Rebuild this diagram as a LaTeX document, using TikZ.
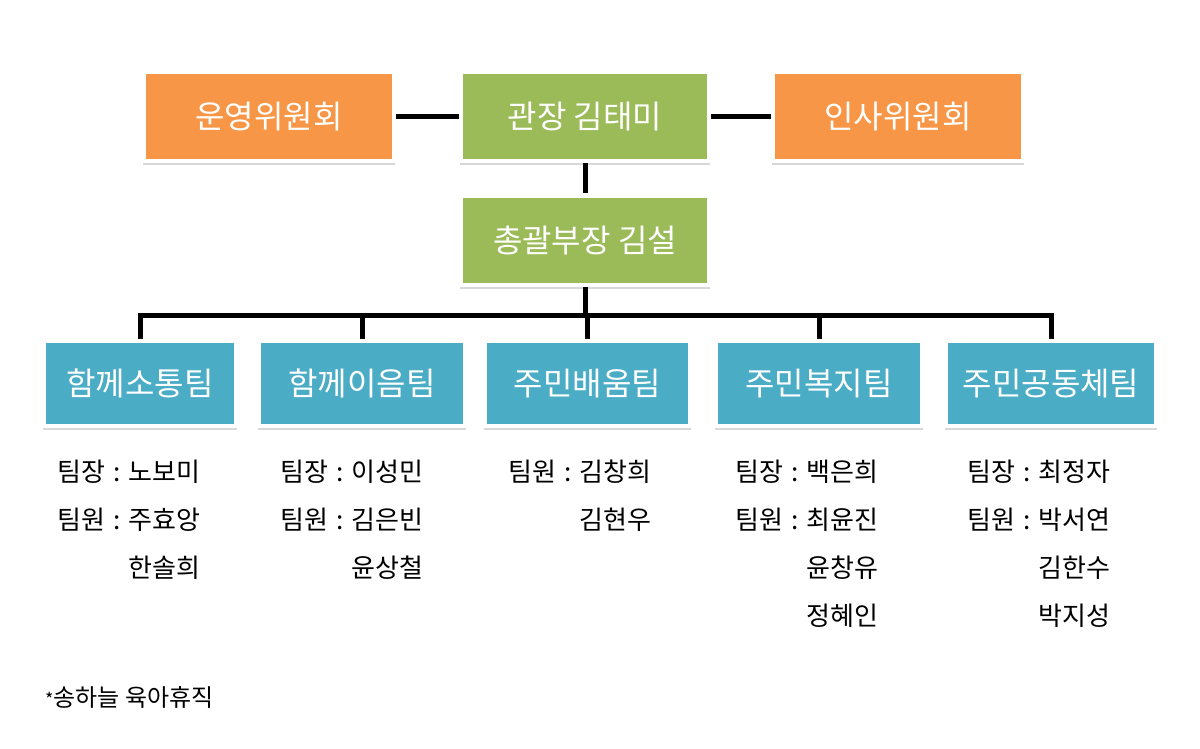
\documentclass[tikz,border=0pt]{standalone}
\usepackage{fontspec}
\setmainfont{Noto Sans CJK KR}
\usetikzlibrary{shadows}
\definecolor{opsorange}{HTML}{F79646}
\definecolor{headgreen}{HTML}{9BBB59}
\definecolor{teamblue}{HTML}{4BACC6}
\tikzset{
  orgbox/.style={draw=white,line width=4pt,text=white,inner sep=0pt,
    font=\fontsize{32}{36}\selectfont,
    drop shadow={opacity=.3,shadow xshift=0pt,shadow yshift=-4pt,shadow scale=1.01}},
  board/.style={orgbox,fill=opsorange,minimum width=250pt,minimum height=89pt},
  head/.style={orgbox,fill=headgreen,minimum width=248pt,minimum height=89pt},
  team/.style={orgbox,fill=teamblue,minimum height=85pt},
  link/.style={line width=5pt},
  crew/.style={anchor=base west,inner sep=0pt,font=\fontsize{26}{48}\selectfont},
}
\newcommand{\roster}[1]{\begin{tabular}[t]{@{}l@{\hspace{8pt}}c@{\hspace{8pt}}l@{}}#1\end{tabular}}
\begin{document}
\begin{tikzpicture}[x=1pt,y=-1pt]
  \useasboundingbox[fill=white] (0,0) rectangle (1200,749);
  % top row
  \node[board] (ops) at (269,116.5) {운영위원회};
  \node[head] (dir) at (585,116.5) {관장 김태미};
  \node[board] (hr) at (898,116.5) {인사위원회};
  \node[head] (gm) at (585,240) {총괄부장 김설};
  % teams
  \node[team,minimum width=192pt] (t1) at (140,383.5) {함께소통팀};
  \node[team,minimum width=206pt] (t2) at (362,383.5) {함께이음팀};
  \node[team,minimum width=205pt] (t3) at (587.5,383.5) {주민배움팀};
  \node[team,minimum width=206pt] (t4) at (819,383.5) {주민복지팀};
  \node[team,minimum width=210pt] (t5) at (1051,383.5) {주민공동체팀};
  \coordinate (bus) at (585,315);
  \draw[link] (ops) -- (dir);
  \draw[link] (dir) -- (hr);
  \draw[link] (dir) -- (gm);
  \draw[link] (gm) -- (bus);
  \foreach \t in {t1,t2,t3,t4,t5} {
    \draw[link] (bus) -| (\t.north);
  }
  % members
  \node[crew] (c1) at (57,481) {\roster{팀장&:&노보미\\팀원&:&주효앙\\&&한솔희}};
  \node[crew] (c2) at (280,481) {\roster{팀장&:&이성민\\팀원&:&김은빈\\&&윤상철}};
  \node[crew] (c3) at (508,481) {\roster{팀원&:&김창희\\&&김현우}};
  \node[crew] (c4) at (735,481) {\roster{팀장&:&백은희\\팀원&:&최윤진\\&&윤창유\\&&정혜인}};
  \node[crew] (c5) at (967,481) {\roster{팀장&:&최정자\\팀원&:&박서연\\&&김한수\\&&박지성}};
  \node[anchor=west,inner sep=0pt,font=\fontsize{24}{28}\selectfont] (note) at (45,697)
    {\fontsize{18}{20}\selectfont*\fontsize{24}{28}\selectfont 송하늘 육아휴직};
\end{tikzpicture}
\end{document}
